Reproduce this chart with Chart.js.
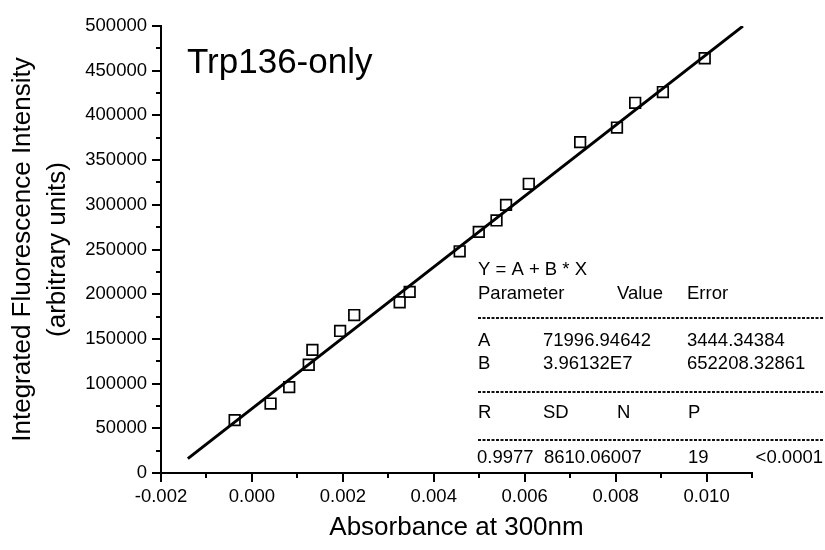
<!DOCTYPE html>
<html>
<head>
<meta charset="utf-8">
<title>Trp136-only</title>
<script src="https://cdn.jsdelivr.net/npm/chart.js@4/dist/chart.umd.min.js"></script>
<style>
  html, body { margin: 0; padding: 0; background: #fff; }
  #wrap { width: 825px; height: 550px; }
</style>
</head>
<body>
<div id="wrap"><canvas id="plot" width="825" height="550"></canvas></div>
<script>
// Trp136-only: integrated fluorescence vs absorbance at 300nm
var absorbance = [-0.00038, 0.00041, 0.00082, 0.00125, 0.00133, 0.00194, 0.00225, 0.00325, 0.00347, 0.00457,
                  0.00499, 0.00538, 0.00559, 0.00609, 0.00722, 0.00803, 0.00843, 0.00904, 0.00996];
var intensity = [59100, 77700, 96100, 121100, 137700, 158900, 176700, 191000, 202600, 248000,
                 269700, 282500, 299900, 323500, 370100, 386400, 414100, 426100, 463900];

// linear fit Y = A + B * X
var fitA = 71996.94642;
var fitB = 3.96132E7;
var fitRange = [-0.00141, 0.0108];

var xTicks = [-0.002, 0.000, 0.002, 0.004, 0.006, 0.008, 0.010];
var xMinor = [-0.001, 0.001, 0.003, 0.005, 0.007, 0.009, 0.011];
var yTicks = [0, 50000, 100000, 150000, 200000, 250000, 300000, 350000, 400000, 450000, 500000];
var yMinor = [25000, 75000, 125000, 175000, 225000, 275000, 325000, 375000, 425000, 475000];

var plotLabel = 'Trp136-only';
var fitHead = 'Y = A + B * X';
var paramCols = ['Parameter', 'Value', 'Error'];
var paramRows = [['A', '71996.94642', '3444.34384'],
                 ['B', '3.96132E7', '652208.32861']];
var statCols = ['R', 'SD', 'N', 'P'];
var statRow = ['0.9977', '8610.06007', '19', '<0.0001'];

var FONT = '"Liberation Sans", Arial, Helvetica, sans-serif';

function fitLine() {
	var pts = [];
	for (var i = 0; i < fitRange.length; i++) {
		pts.push({x: fitRange[i], y: fitA + fitB * fitRange[i]});
	}
	return pts;
}

function scatterData() {
	var pts = [];
	for (var i = 0; i < absorbance.length; i++) {
		pts.push({x: absorbance[i], y: intensity[i]});
	}
	return pts;
}

var whiteBg = {
	id: 'whiteBg',
	beforeDraw: function(chart) {
		var ctx = chart.ctx;
		ctx.save();
		ctx.fillStyle = '#fff';
		ctx.fillRect(0, 0, chart.width, chart.height);
		ctx.restore();
	}
};

// short unlabeled ticks between the major ones
var minorTicks = {
	id: 'minorTicks',
	afterDraw: function(chart) {
		var ctx = chart.ctx, area = chart.chartArea;
		var xs = chart.scales.x, ys = chart.scales.y;
		ctx.save();
		ctx.strokeStyle = '#000';
		ctx.lineWidth = 2;
		ctx.beginPath();
		for (var i = 0; i < xMinor.length; i++) {
			var px = Math.round(xs.getPixelForValue(xMinor[i]));
			ctx.moveTo(px, area.bottom);
			ctx.lineTo(px, area.bottom + 5);
		}
		for (var j = 0; j < yMinor.length; j++) {
			var py = Math.round(ys.getPixelForValue(yMinor[j]));
			ctx.moveTo(area.left, py);
			ctx.lineTo(area.left - 5, py);
		}
		ctx.stroke();
		ctx.restore();
	}
};

function dashRule(ctx, y, x0, x1) {
	ctx.save();
	ctx.strokeStyle = '#111';
	ctx.lineWidth = 2.2;
	ctx.setLineDash([3, 1.5]);
	ctx.beginPath();
	ctx.moveTo(x0, y);
	ctx.lineTo(x1, y);
	ctx.stroke();
	ctx.restore();
}

// label in the corner and the fit results table
var annotations = {
	id: 'annotations',
	afterDraw: function(chart) {
		var ctx = chart.ctx;
		ctx.save();
		ctx.fillStyle = '#000';
		ctx.textBaseline = 'alphabetic';
		ctx.textAlign = 'left';

		ctx.font = '35px ' + FONT;
		ctx.fillText(plotLabel, 187, 73);

		ctx.font = '18.5px ' + FONT;
		ctx.fillText(fitHead, 478, 275);

		var colX = [478, 617, 687];
		for (var c = 0; c < paramCols.length; c++) ctx.fillText(paramCols[c], colX[c], 299);
		dashRule(ctx, 318, 478, 823);

		var valX = [478, 543, 687];
		var rowY = [346, 369];
		for (var r = 0; r < paramRows.length; r++) {
			for (var k = 0; k < paramRows[r].length; k++) ctx.fillText(paramRows[r][k], valX[k], rowY[r]);
		}
		dashRule(ctx, 392, 478, 823);

		var statX = [478, 543, 617, 688];
		for (var s = 0; s < statCols.length; s++) ctx.fillText(statCols[s], statX[s], 418);
		dashRule(ctx, 440, 478, 823);

		var outX = [477, 544, 688];
		for (var o = 0; o < 3; o++) ctx.fillText(statRow[o], outX[o], 463);
		ctx.textAlign = 'right';
		ctx.fillText(statRow[3], 823, 463);
		ctx.restore();
	}
};

var axisCommon = {
	border: {color: '#000', width: 2},
	grid: {drawOnChartArea: false, color: '#000', lineWidth: 2, tickLength: 9}
};

var ctx = document.getElementById('plot').getContext('2d');
var myChart = new Chart(ctx, {
	type: 'scatter',
	data: {
		datasets: [{
			label: 'data',
			data: scatterData(),
			pointStyle: 'rect',
			pointRadius: 7.5,
			pointHoverRadius: 7.5,
			pointBorderWidth: 1.7,
			pointBorderColor: '#000',
			pointBackgroundColor: 'rgba(0,0,0,0)',
			showLine: false
		}, {
			label: 'fit',
			data: fitLine(),
			showLine: true,
			borderColor: '#000',
			borderWidth: 3,
			pointRadius: 0,
			fill: false
		}]
	},
	options: {
		responsive: false,
		devicePixelRatio: 1,
		animation: false,
		layout: {padding: {left: 0, top: 26, right: 73, bottom: 0}},
		plugins: {legend: {display: false}, tooltip: {enabled: false}},
		scales: {
			x: {
				type: 'linear',
				position: 'bottom',
				min: -0.002,
				max: 0.011,
				border: axisCommon.border,
				grid: axisCommon.grid,
				afterBuildTicks: function(s) {
					s.ticks = xTicks.map(function(v) { return {value: v}; });
				},
				afterFit: function(s) { s.height = 77; },
				ticks: {
					color: '#000',
					font: {family: FONT, size: 18.5},
					padding: 4,
					maxRotation: 0,
					autoSkip: false,
					callback: function(v) { return Math.abs(v) < 1e-12 ? '0.000' : Number(v).toFixed(3); }
				},
				title: {
					display: true,
					text: 'Absorbance at 300nm',
					color: '#000',
					font: {family: FONT, size: 26},
					padding: {top: 0, bottom: 7}
				}
			},
			y: {
				type: 'linear',
				min: 0,
				max: 500000,
				border: axisCommon.border,
				grid: axisCommon.grid,
				afterBuildTicks: function(s) {
					s.ticks = yTicks.map(function(v) { return {value: v}; });
				},
				afterFit: function(s) { s.width = 161; },
				ticks: {
					color: '#000',
					font: {family: FONT, size: 18.5},
					padding: 5,
					autoSkip: false,
					callback: function(v) { return String(v); }
				},
				title: {
					display: true,
					text: ['Integrated Fluorescence Intensity', '(arbitrary units)'],
					color: '#000',
					font: {family: FONT, size: 26, lineHeight: 1.35},
					padding: {top: 5, bottom: 0}
				}
			}
		}
	},
	plugins: [whiteBg, minorTicks, annotations]
});
</script>
</body>
</html>
